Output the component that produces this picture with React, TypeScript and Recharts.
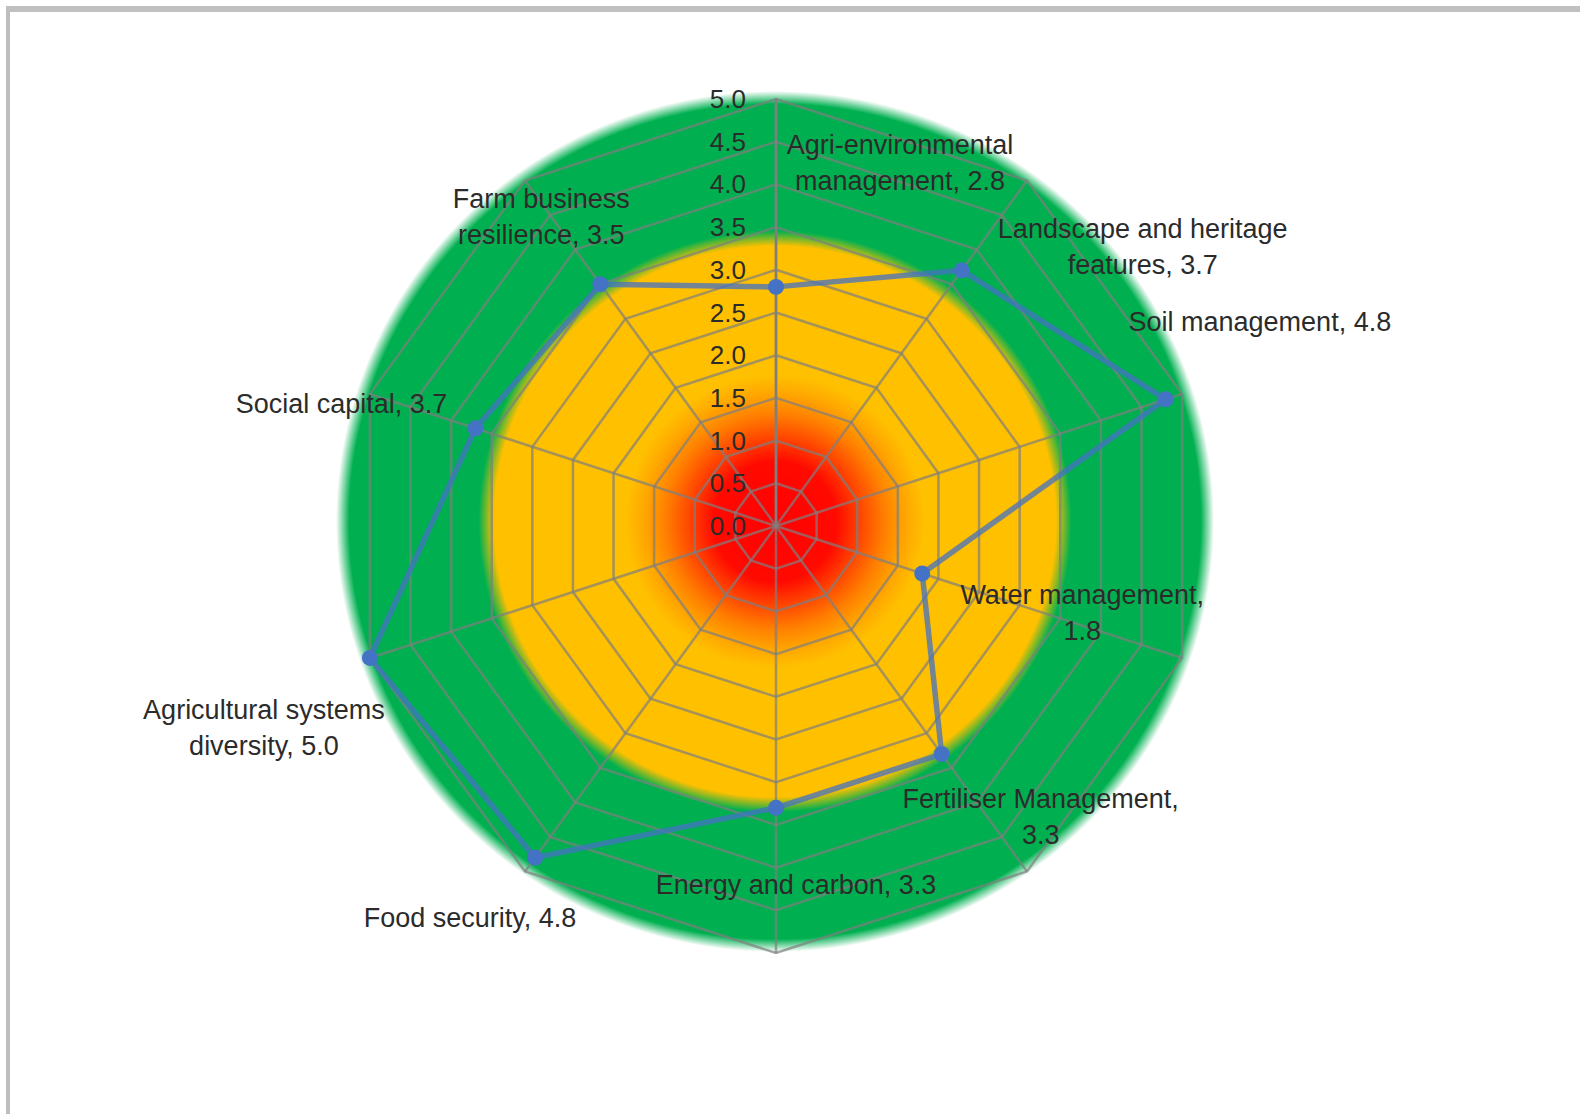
import React from 'react';
import { RadarChart, Radar, PolarGrid, PolarAngleAxis, PolarRadiusAxis } from 'recharts';

const categories = [
  'Agri-environmental management',
  'Landscape and heritage features',
  'Soil management',
  'Water management',
  'Fertiliser Management',
  'Energy and carbon',
  'Food security',
  'Agricultural systems diversity',
  'Social capital',
  'Farm business resilience',
];
const scores = [2.8, 3.7, 4.8, 1.8, 3.3, 3.3, 4.8, 5.0, 3.7, 3.5];
const radiusTicks = [0, 0.5, 1, 1.5, 2, 2.5, 3, 3.5, 4, 4.5, 5];

// where each data label sits relative to its marker, and how wide a line may get (chars)
const labelPlacement = [
  { dx: 124, dy: -124, wrap: 18 },
  { dx: 181, dy: -23, wrap: 22 },
  { dx: 94, dy: -77, wrap: 30 },
  { dx: 160, dy: 39, wrap: 17 },
  { dx: 99, dy: 63, wrap: 22 },
  { dx: 20, dy: 77, wrap: 30 },
  { dx: -65, dy: 60, wrap: 30 },
  { dx: -106, dy: 70, wrap: 20 },
  { dx: -134, dy: -24, wrap: 30 },
  { dx: -59, dy: -67, wrap: 15 },
];

const data = categories.map((name, i) => ({ name, score: scores[i] }));

const FONT = '"Liberation Sans", Arial, sans-serif';
const TEXT = '#2b2b2b';

function wrap(text: string, max: number) {
  const lines: string[] = [];
  let cur = '';
  for (const w of text.split(' ')) {
    const next = cur ? cur + ' ' + w : w;
    if (next.length > max && cur) { lines.push(cur); cur = w; } else cur = next;
  }
  if (cur) lines.push(cur);
  return lines;
}

const renderDot = (props: any) => {
  const { cx, cy, index } = props;
  const p = labelPlacement[index];
  const row = data[index];
  const lines = wrap(`${row.name}, ${row.score.toFixed(1)}`, p.wrap);
  const lh = 36;
  const x = cx + p.dx;
  const y0 = cy + p.dy - ((lines.length - 1) * lh) / 2;
  return (
    <g key={`dot-${index}`}>
      <circle cx={cx} cy={cy} r={8} fill="#4472C4" />
      <text x={x} y={y0} textAnchor="middle" dominantBaseline="central" fontFamily={FONT} fontSize={27} fill={TEXT}>
        {lines.map((l, k) => (
          <tspan key={k} x={x} dy={k === 0 ? 0 : lh}>{l}</tspan>
        ))}
      </text>
    </g>
  );
};

const RadiusTick = (props: any) => {
  const { x, y, payload } = props;
  return (
    <text x={x - 30} y={y} textAnchor="end" dominantBaseline="central" fontFamily={FONT} fontSize={26} fill={TEXT}>
      {Number(payload.value).toFixed(1)}
    </text>
  );
};

const bg = 'radial-gradient(ellipse closest-side at 50% 50%, #ff0000 0%, #ff0a00 14%, #ff4000 19%, #ff8000 25%, #ffa800 30%, #ffc000 34%, #ffc000 64%, #00b050 67.5%, #00b050 97%, rgba(255,255,255,0) 100%)';

export default function App() {
  return (
    <div style={{ position: 'absolute', left: 0, top: 0, width: 1580, height: 1114, background: '#fff', overflow: 'hidden' }}>
      <div style={{ position: 'absolute', left: 6, top: 6, right: -20, bottom: -20, borderLeft: '4px solid #bdbdbd', borderTop: '6px solid #c0c0c0' }} />
      <div style={{ position: 'absolute', left: 336, top: 91, width: 878, height: 861, borderRadius: '50%', background: bg }} />
      <div style={{ position: 'absolute', left: 0, top: 0 }}>
        <RadarChart width={1580} height={1114} cx={776} cy={526} outerRadius={427} data={data} margin={{ top: 0, right: 0, bottom: 0, left: 0 }}>
          <PolarGrid gridType="polygon" stroke="#7f7f7f" strokeOpacity={0.7} strokeWidth={2.5} />
          <PolarAngleAxis dataKey="name" tick={false} axisLine={false} />
          <PolarRadiusAxis angle={90} domain={[0, 5]} ticks={radiusTicks} tickCount={11} tick={<RadiusTick />} tickLine={false} axisLine={{ stroke: '#7f7f7f', strokeWidth: 2.5 }} />
          <Radar dataKey="score" stroke="#4472C4" strokeOpacity={0.75} strokeWidth={5.5} fill="none" fillOpacity={0} dot={renderDot} isAnimationActive={false} />
        </RadarChart>
      </div>
    </div>
  );
}
